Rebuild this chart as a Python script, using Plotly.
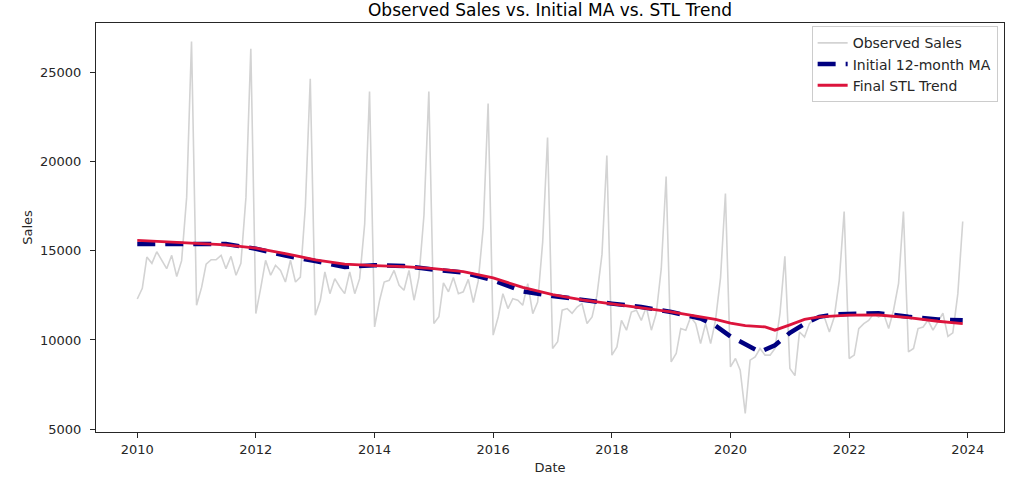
import pandas as pd
import plotly.graph_objects as go

# ---------------- data ----------------
dates = pd.date_range("2010-01-01", periods=168, freq="MS")

sales_2010 = [12300, 12900, 14650, 14300, 14950, 14470, 14000, 14750, 13560, 14450, 18000, 26740]
sales_2011 = [11950, 12950, 14250, 14500, 14500, 14750, 14000, 14690, 13630, 14300, 18000, 26340]
sales_2012 = [11480, 12970, 14470, 13630, 14190, 13900, 13250, 14470, 13250, 13530, 17500, 24660]
sales_2013 = [11390, 12230, 13820, 12600, 13440, 12970, 12600, 13820, 12600, 13440, 16500, 23940]
sales_2014 = [10730, 12230, 13250, 13350, 13900, 13070, 12790, 13900, 12230, 13530, 17000, 23940]
sales_2015 = [10920, 11300, 13200, 12700, 13500, 12600, 12700, 13400, 12100, 13300, 16300, 23260]
sales_2016 = [10270, 11290, 12600, 11760, 12320, 12230, 11950, 13160, 11480, 12130, 15500, 21360]
sales_2017 = [9520, 9900, 11670, 11760, 11500, 11850, 12040, 10920, 11290, 12500, 14800, 20350]
sales_2018 = [9150, 9610, 11100, 10550, 11570, 11670, 11100, 11850, 10550, 11480, 14000, 19170]
sales_2019 = [8770, 9240, 10640, 10550, 11290, 10920, 9800, 10920, 9800, 11100, 13500, 18220]
sales_2020 = [8490, 8960, 8300, 5880, 8870, 9050, 9520, 9150, 9150, 9520, 11500, 14690]
sales_2021 = [8400, 8000, 10450, 10170, 10920, 11200, 11290, 11290, 10450, 11290, 13350, 17210]
sales_2022 = [8960, 9150, 10640, 10920, 11100, 11480, 11290, 11480, 10640, 11670, 13180, 17210]
sales_2023 = [9330, 9520, 10640, 10730, 11100, 10550, 11010, 11500, 10200, 10400, 12600, 16650]

observed = (sales_2010 + sales_2011 + sales_2012 + sales_2013 + sales_2014 + sales_2015
            + sales_2016 + sales_2017 + sales_2018 + sales_2019 + sales_2020 + sales_2021
            + sales_2022 + sales_2023)

ma_dates = ["2010-01-01", "2010-07-01", "2011-01-01", "2011-07-01", "2012-01-01", "2012-07-01",
            "2013-01-01", "2013-07-01", "2014-01-01", "2014-07-01", "2015-01-01", "2015-07-01",
            "2016-01-01", "2016-07-01", "2017-01-01", "2017-07-01", "2018-01-01", "2018-07-01",
            "2019-01-01", "2019-07-01", "2019-10-01", "2020-01-01", "2020-04-01", "2020-07-01",
            "2020-10-01", "2021-01-01", "2021-04-01", "2021-07-01", "2021-10-01", "2022-01-01",
            "2022-07-01", "2023-01-01", "2023-07-01", "2023-12-01"]
ma_values = [15380, 15380, 15420, 15380, 15120, 14730,
             14430, 14100, 14190, 14150, 13950, 13780,
             13350, 12730, 12470, 12230, 12040, 11850,
             11570, 11200, 10800, 10200, 9800, 9330,
             9700, 10400, 10900, 11300, 11430, 11450,
             11500, 11300, 11150, 11100]

stl_dates = ["2010-01-01", "2010-07-01", "2011-01-01", "2011-07-01", "2012-01-01", "2012-07-01",
             "2013-01-01", "2013-07-01", "2014-01-01", "2014-07-01", "2015-01-01", "2015-07-01",
             "2016-01-01", "2016-07-01", "2017-01-01", "2017-07-01", "2018-01-01", "2018-07-01",
             "2019-01-01", "2019-07-01", "2019-10-01", "2020-01-01", "2020-04-01", "2020-08-01",
             "2020-10-01", "2021-01-01", "2021-04-01", "2021-07-01", "2022-01-01", "2022-07-01",
             "2023-01-01", "2023-07-01", "2023-12-01"]
stl_values = [15590, 15500, 15400, 15330, 15150, 14850,
              14500, 14250, 14170, 14120, 14000, 13830,
              13480, 12950, 12550, 12250, 12020, 11820,
              11580, 11300, 11150, 10950, 10800, 10730,
              10550, 10850, 11150, 11300, 11390, 11400,
              11250, 11050, 10920]

x_tick_vals = ["2010-01-01", "2012-01-01", "2014-01-01", "2016-01-01", "2018-01-01",
               "2020-01-01", "2022-01-01", "2024-01-01"]
x_tick_text = ["2010", "2012", "2014", "2016", "2018", "2020", "2022", "2024"]
y_tick_vals = [5000, 10000, 15000, 20000, 25000]

# ---------------- figure ----------------
fig = go.Figure()
fig.add_trace(go.Scatter(x=dates, y=observed, mode="lines", name="Observed Sales",
                         line=dict(color="#d3d3d3", width=1.6)))
fig.add_trace(go.Scatter(x=pd.to_datetime(ma_dates), y=ma_values, mode="lines",
                         name="Initial 12-month MA",
                         line=dict(color="#000080", width=4.5, dash="18px,10px")))
fig.add_trace(go.Scatter(x=pd.to_datetime(stl_dates), y=stl_values, mode="lines",
                         name="Final STL Trend",
                         line=dict(color="#dc143c", width=2.8)))

span = dates[-1] - dates[0]
x_range = [dates[0] - span * 0.05, dates[-1] + span * 0.05]
ymin, ymax = min(observed), max(observed)
pad = (ymax - ymin) * 0.05
y_range = [ymin - pad, ymax + pad]

font_family = "DejaVu Sans"
axis_color = "#262626"
fig.update_layout(
    width=1024, height=481,
    paper_bgcolor="white", plot_bgcolor="white",
    margin=dict(l=96, r=20, t=23, b=49, autoexpand=False),
    font=dict(family=font_family, size=13, color="#262626"),
    title=dict(text="Observed Sales vs. Initial MA vs. STL Trend", x=0.5, xref="paper",
               xanchor="center", y=1 - 10 / 481, yanchor="middle", yref="container",
               font=dict(family=font_family, size=17, color="black")),
    showlegend=True,
    legend=dict(x=0.993, y=0.992, xanchor="right", yanchor="top",
                bgcolor="rgba(255,255,255,0.8)", bordercolor="#cccccc", borderwidth=1,
                font=dict(family=font_family, size=14, color="#262626"),
                itemwidth=30),
)
fig.update_xaxes(range=x_range, tickvals=pd.to_datetime(x_tick_vals), ticktext=x_tick_text,
                 showgrid=False, zeroline=False, showline=True, linecolor=axis_color, linewidth=1,
                 mirror=True, ticks="outside", ticklen=5, tickcolor=axis_color,
                 tickfont=dict(size=13), automargin=False,
                 title=dict(text="Date", font=dict(size=13), standoff=7))
fig.update_yaxes(range=y_range, tickvals=y_tick_vals, tickformat="d",
                 showgrid=False, zeroline=False, showline=True, linecolor=axis_color, linewidth=1,
                 mirror=True, ticks="outside", ticklen=5, tickcolor=axis_color,
                 tickfont=dict(size=13), automargin=False, ticklabelstandoff=6,
                 title=dict(text="Sales", font=dict(size=13), standoff=4))

fig.write_html("out.html", config={"displayModeBar": False},
               post_script="document.body.style.margin='0px';")
